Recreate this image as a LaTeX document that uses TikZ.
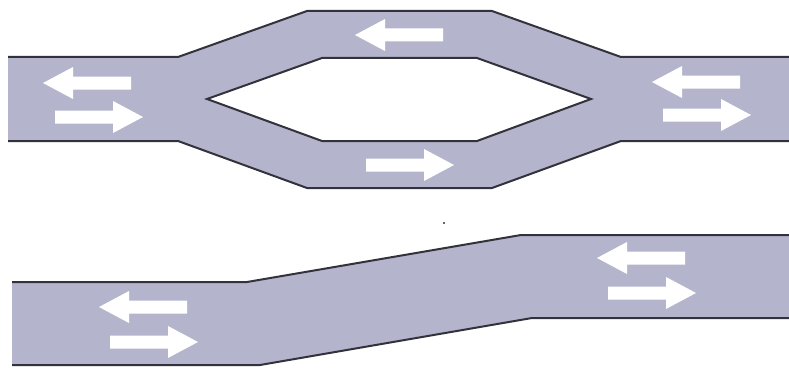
\documentclass[tikz,border=0pt]{standalone}
\definecolor{roadfill}{RGB}{180,181,204}
\definecolor{roadedge}{RGB}{50,50,60}
\tikzset{
  road/.style={fill=roadfill,draw=none,even odd rule},
  edge/.style={draw=roadedge,line width=2pt,line join=miter},
  pics/rarrow/.style={code={\fill[white] (-44,-6.5) -- (14,-6.5) -- (14,-16) -- (44,0) -- (14,16) -- (14,6.5) -- (-44,6.5) -- cycle;}},
  pics/larrow/.style={code={\fill[white] (44,-6.5) -- (-14,-6.5) -- (-14,-16) -- (-44,0) -- (-14,16) -- (-14,6.5) -- (44,6.5) -- cycle;}}
}
\begin{document}
\begin{tikzpicture}[x=1pt,y=-1pt]
\useasboundingbox (0,0) rectangle (789,369);
% top road with loop
\fill[road] (8,57) -- (178,57) -- (307,11) -- (492,11) -- (621,57) -- (789,57) -- (789,141) -- (621,141) -- (492,188) -- (307,188) -- (178,141) -- (8,141) -- cycle
  (207,99) -- (322,58) -- (477,58) -- (591,99) -- (477,141) -- (322,141) -- cycle;
\draw[edge] (8,57) -- (178,57) -- (307,11) -- (492,11) -- (621,57) -- (789,57);
\draw[edge] (8,141) -- (178,141) -- (307,188) -- (492,188) -- (621,141) -- (789,141);
\draw[edge] (207,99) -- (322,58) -- (477,58) -- (591,99) -- (477,141) -- (322,141) -- cycle;
% bottom road
\fill[road] (12,282) -- (247,282) -- (521,235) -- (789,235) -- (789,318) -- (532,318) -- (260,365) -- (12,365) -- cycle;
\draw[edge] (12,282) -- (247,282) -- (521,235) -- (789,235);
\draw[edge] (12,365) -- (260,365) -- (532,318) -- (789,318);
% speck
\fill[roadedge] (444,223) circle (1.2);
% arrows
\pic at (87,83) {larrow};
\pic at (99,117) {rarrow};
\pic at (399,35) {larrow};
\pic at (410,165) {rarrow};
\pic at (696,82) {larrow};
\pic at (707,115) {rarrow};
\pic at (143,307) {larrow};
\pic at (154,342) {rarrow};
\pic at (641,258) {larrow};
\pic at (652,293) {rarrow};
\end{tikzpicture}
\end{document}
